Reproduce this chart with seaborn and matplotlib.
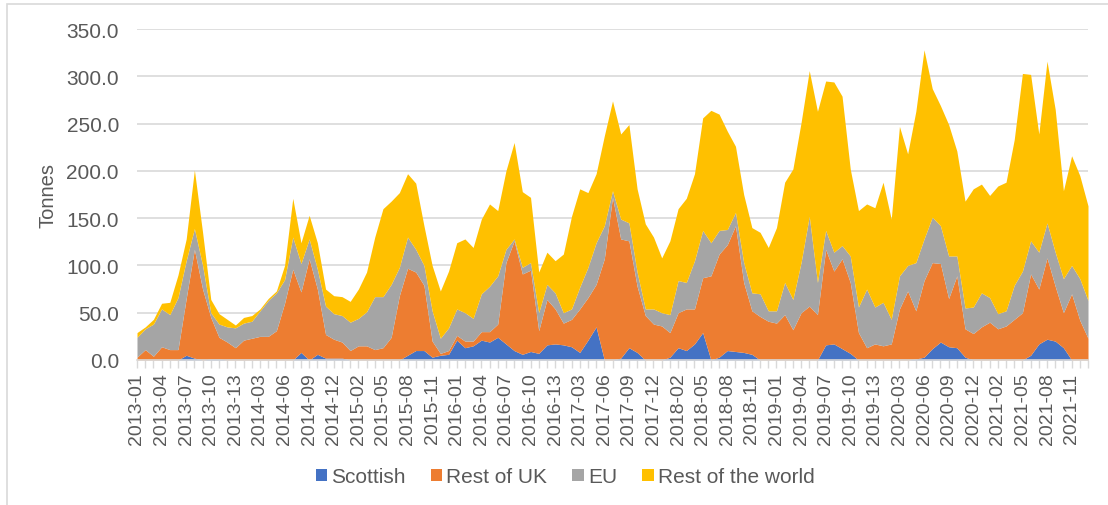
import matplotlib
matplotlib.use("Agg")
import matplotlib.pyplot as plt
from matplotlib.patches import Rectangle
from matplotlib.ticker import FixedLocator, FuncFormatter
import seaborn as sns
import numpy as np

# Four-weekly periods, 13 per year, 2013-01 .. 2021-13
years = list(range(2013, 2022))
periods_per_year = 13
periods = [f"{y}-{p:02d}" for y in years for p in range(1, periods_per_year + 1)]

series_names = ["Scottish", "Rest of UK", "EU", "Rest of the world"]

scottish = [0, 0, 0, 0, 0, 0, 5, 2, 0, 1, 1, 0, 0, 0, 0, 0, 0, 0, 0, 0,
            8, 0, 6, 2, 2, 2, 0, 0, 0, 0, 0, 0, 0, 5, 10, 10, 3, 5, 6, 21,
            13, 15, 21, 19, 24, 17, 10, 6, 9, 7, 16, 17, 16, 14, 8, 21, 35, 0, 0, 2,
            13, 8, 0, 0, 0, 3, 13, 10, 17, 29, 0, 3, 10, 9, 8, 6, 0, 0, 0, 0,
            0, 0, 0, 0, 16, 17, 12, 7, 0, 0, 0, 0, 0, 0, 0, 1, 3, 12, 19, 14,
            13, 3, 0, 0, 0, 0, 0, 0, 0, 5, 17, 22, 20, 13, 0, 0, 0]

rest_of_uk = [3, 11, 4, 14, 11, 11, 60, 115, 75, 44, 23, 19, 13, 21, 23, 25, 25, 31, 60, 96,
              64, 107, 69, 25, 20, 17, 10, 15, 15, 11, 13, 24, 68, 92, 83, 69, 17, 2, 4, 5,
              7, 5, 9, 11, 14, 86, 116, 85, 86, 24, 48, 37, 23, 29, 46, 45, 45, 107, 172, 126,
              113, 70, 47, 38, 36, 26, 37, 44, 37, 58, 89, 109, 112, 133, 74, 46, 46, 41, 39, 48,
              32, 50, 57, 48, 101, 77, 95, 75, 29, 13, 17, 15, 17, 54, 73, 51, 81, 91, 83, 51,
              76, 30, 28, 35, 40, 33, 36, 43, 50, 86, 58, 86, 58, 37, 70, 42, 23]

eu = [21, 22, 34, 40, 37, 55, 40, 22, 25, 5, 14, 16, 21, 18, 18, 27, 38, 40, 25, 34,
      30, 21, 21, 30, 27, 28, 30, 29, 36, 56, 54, 56, 30, 33, 24, 21, 32, 16, 24, 28,
      30, 24, 40, 48, 51, 14, 2, 7, 8, 19, 16, 17, 11, 11, 23, 32, 44, 35, 7, 21,
      19, 15, 7, 16, 14, 19, 34, 28, 51, 50, 35, 25, 16, 14, 21, 19, 24, 11, 13, 34,
      32, 53, 95, 34, 20, 20, 14, 28, 27, 62, 39, 46, 26, 35, 27, 51, 44, 48, 40, 45,
      21, 22, 28, 36, 26, 16, 16, 36, 44, 35, 39, 37, 36, 36, 30, 44, 40]

rest_of_world = [5, 2, 5, 6, 13, 24, 23, 62, 35, 14, 11, 8, 3, 6, 6, 2, 2, 2, 15, 41,
                 22, 25, 28, 18, 19, 20, 22, 31, 42, 63, 93, 88, 79, 67, 70, 42, 48, 50, 60, 70,
                 78, 75, 79, 87, 69, 83, 102, 80, 69, 43, 34, 34, 62, 98, 104, 79, 73, 95, 95, 90,
                 104, 88, 90, 76, 58, 78, 76, 89, 92, 119, 140, 123, 104, 70, 72, 69, 65, 67, 88, 106,
                 138, 148, 154, 181, 158, 180, 158, 92, 102, 90, 105, 127, 106, 158, 118, 160, 200, 136, 127, 139,
                 111, 113, 125, 115, 108, 135, 136, 154, 209, 176, 125, 171, 151, 93, 116, 109, 100]

colors = ["#4472C4", "#ED7D31", "#A5A5A5", "#FFC000"]
text_color = "#595959"
grid_color = "#D9D9D9"

sns.set_theme(style="white")
plt.rcParams["font.family"] = ["Liberation Sans", "DejaVu Sans"]

fig = plt.figure(figsize=(11.08, 5.06), dpi=100)
ax = fig.add_axes([137 / 1108, 1 - 361 / 506, (1088 - 137) / 1108, (361 - 30) / 506])

x = np.arange(len(periods))
palette = sns.color_palette(colors)
ax.stackplot(x, scottish, rest_of_uk, eu, rest_of_world,
             colors=palette, labels=series_names, linewidth=0, zorder=2)

ax.set_xlim(0, len(periods) - 1)
ax.set_ylim(0, 350)
ax.set_yticks(np.arange(0, 351, 50))
ax.yaxis.set_major_formatter(FuncFormatter(lambda v, _: f"{v:.1f}"))
ax.grid(axis="y", color=grid_color, linewidth=1.2, zorder=0)
ax.set_axisbelow(True)

label_idx = list(range(0, len(periods), 3))
ax.xaxis.set_major_locator(FixedLocator(label_idx))
ax.set_xticklabels([periods[i] for i in label_idx], rotation=90)
ax.xaxis.set_minor_locator(FixedLocator(x))
ax.tick_params(axis="x", which="both", direction="out", length=6, width=1,
               color=grid_color, bottom=True, pad=3)
ax.tick_params(axis="x", labelsize=14, labelcolor=text_color)
ax.tick_params(axis="y", length=0, labelsize=15, labelcolor=text_color, pad=13)

for side in ["top", "right", "left"]:
    ax.spines[side].set_visible(False)
ax.spines["bottom"].set_color(grid_color)
ax.spines["bottom"].set_linewidth(1.2)

ax.set_ylabel("Tonnes", fontsize=14.5, color=text_color, labelpad=6)

handles, labels = ax.get_legend_handles_labels()
fig.legend(handles, labels, loc="center", ncol=4, frameon=False,
           bbox_to_anchor=(565 / 1108, 1 - 478 / 506), fontsize=15,
           labelcolor=text_color, handlelength=0.55, handleheight=0.55,
           handletextpad=0.2, columnspacing=1.2)

# chart frame
fig.patches.append(Rectangle((7 / 1108, -0.1), 1.2, 1 - 5 / 506 + 0.1,
                             transform=fig.transFigure, fill=False,
                             edgecolor=grid_color, linewidth=1.2))

fig.savefig("out.png", dpi=100)
